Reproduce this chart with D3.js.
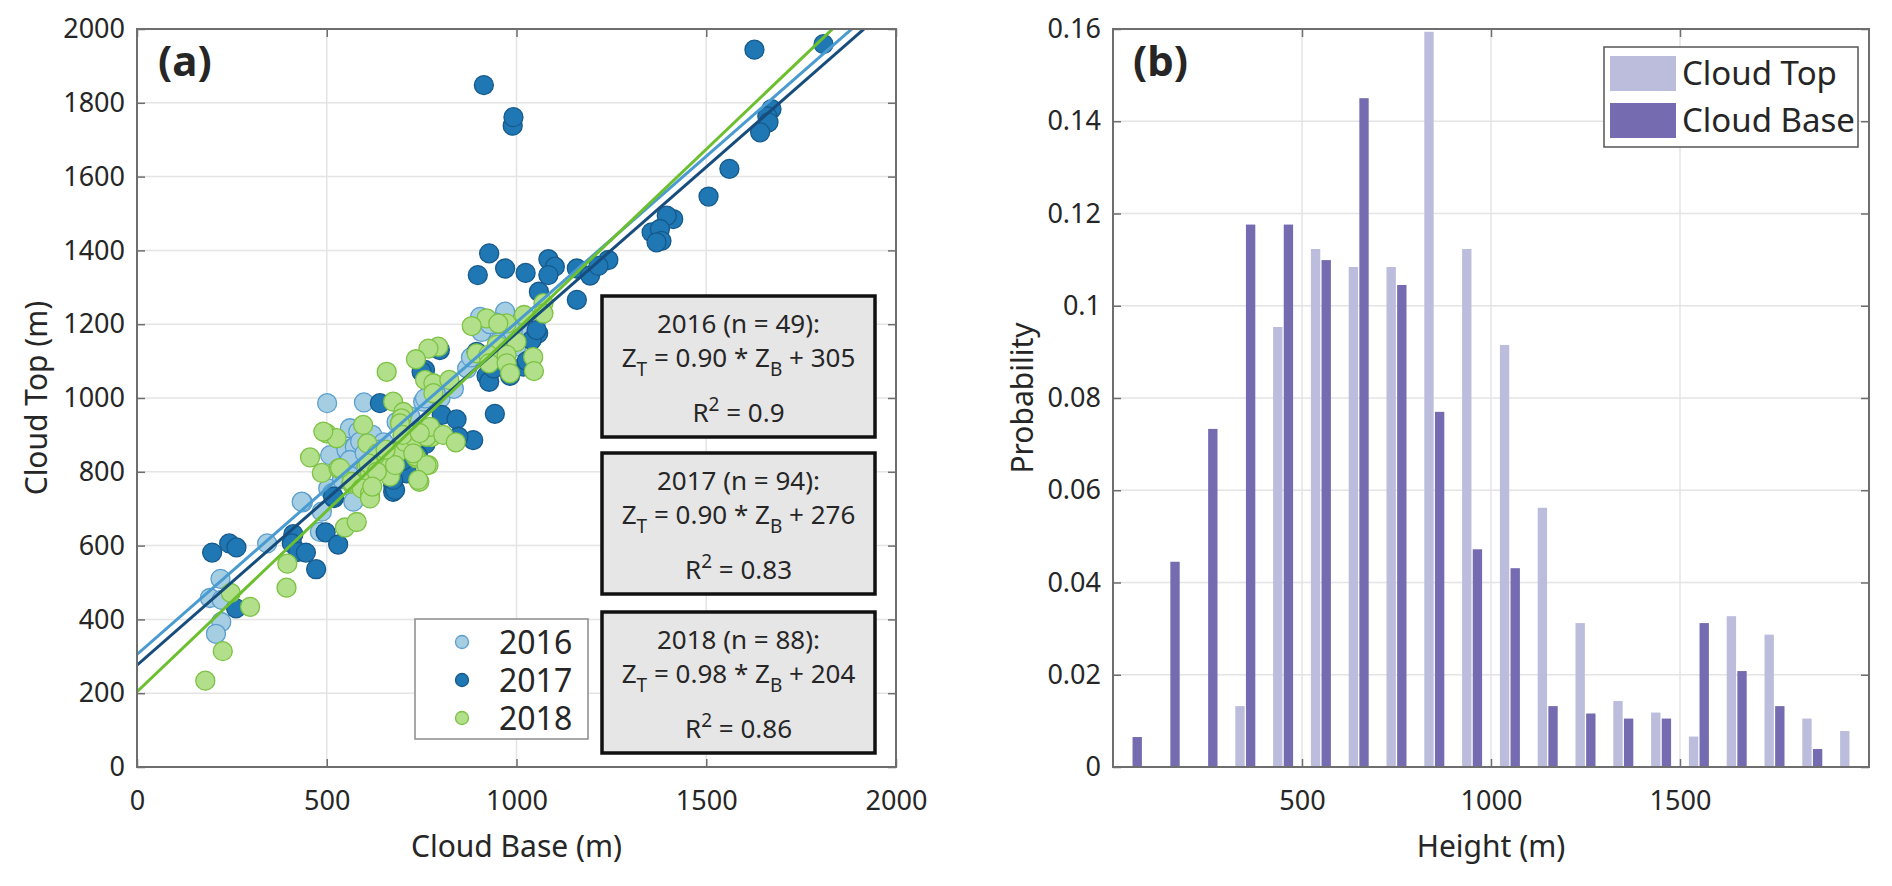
<!DOCTYPE html>
<html>
<head>
<meta charset="utf-8">
<script src="https://cdn.jsdelivr.net/npm/d3@7"></script>
<style>
  body { margin: 0; background: #fff; }
  text { font-family: "Noto Sans", sans-serif; fill: #262626; }
</style>
</head>
<body>
<script>
// ---- data: panel (a) scatter, cloud base vs cloud top (m) ----
const years = ['2016', '2017', '2018'];
const counts = [49, 94, 88];
const fitSlope = [0.90, 0.90, 0.98];
const fitIntercept = [305, 276, 204];
const fitR2 = ['0.9', '0.83', '0.86'];

const points2016 = [
  [437, 717], [343, 606], [220, 510], [192, 458], [223, 453], [222, 393], [208, 361],
  [482, 637], [487, 692], [504, 755], [570, 719], [509, 845], [572, 868], [501, 986],
  [598, 988], [561, 918], [583, 909], [552, 859], [574, 868], [561, 832], [588, 882],
  [684, 935], [754, 990], [434, 719], [514, 742], [768, 1003], [904, 1220], [970, 1234],
  [908, 1179], [1027, 1195], [1053, 1211], [759, 999], [945, 1205],
  [620, 900], [650, 880], [700, 900], [720, 950], [800, 1000], [835, 1025], [870, 1080],
  [950, 1150], [990, 1180], [640, 860], [560, 790], [600, 850], [540, 780], [880, 1110],
  [930, 1200], [1000, 1140]
];

const points2017 = [
  [914, 1848], [990, 1738], [992, 1761], [1627, 1944], [1809, 1959], [1672, 1783],
  [1661, 1763], [1664, 1747], [1642, 1720], [1561, 1621], [1506, 1546], [1413, 1485],
  [1396, 1494], [1356, 1449], [1378, 1458], [1382, 1426], [1369, 1422],
  [928, 1392], [898, 1333], [970, 1351], [1024, 1339], [1084, 1376], [1101, 1356],
  [1084, 1333], [1159, 1351], [1194, 1332], [1242, 1374], [1216, 1358], [1159, 1266],
  [1059, 1288], [1057, 1175], [1040, 1157], [895, 1125], [798, 1130], [921, 1060],
  [928, 1044], [983, 1060], [759, 1076], [943, 957], [640, 986], [803, 954], [842, 942],
  [886, 886], [847, 895], [710, 800], [1018, 1085], [1053, 1184], [750, 1071], [675, 764],
  [675, 746], [1027, 1100],
  [198, 581], [243, 606], [262, 595], [412, 631], [408, 606], [425, 583], [445, 581],
  [472, 536], [497, 636], [530, 603], [261, 430], [519, 729], [680, 751], [711, 796],
  [675, 778], [517, 733],
  [950, 1100], [965, 1125], [940, 1080], [700, 830], [690, 865], [730, 855], [760, 875],
  [650, 830], [625, 815], [740, 845], [780, 905], [720, 880]
];

const points2018 = [
  [180, 234], [226, 314], [247, 472], [298, 434], [394, 486], [396, 551], [548, 649],
  [579, 664], [456, 839], [487, 797], [531, 809], [500, 904], [526, 891], [565, 768],
  [614, 732], [609, 796], [640, 836], [671, 805], [676, 850], [711, 877], [737, 836],
  [768, 818], [744, 773], [776, 894],
  [491, 909], [596, 927], [607, 877], [633, 850], [605, 818], [658, 842], [688, 854],
  [706, 881], [733, 890], [763, 895], [772, 922], [807, 900], [840, 880], [733, 842],
  [763, 818], [741, 778], [667, 814], [667, 787], [614, 796], [566, 773], [592, 755],
  [614, 741], [614, 728], [675, 990], [702, 962], [697, 945], [693, 931], [658, 1071],
  [759, 1049], [781, 1040], [823, 1049], [781, 1013],
  [1071, 1257], [1071, 1229], [1020, 1225], [921, 1216], [974, 1202], [952, 1202],
  [882, 1195], [1000, 1152], [948, 1144], [895, 1121], [926, 1117], [974, 1117],
  [928, 1094], [974, 1094], [983, 1067], [1044, 1111], [1046, 1073], [794, 1139],
  [768, 1134], [735, 1105], [728, 850], [680, 818], [610, 823], [632, 800], [535, 810],
  [700, 900], [745, 905], [655, 860], [620, 760]
];

const xTicksA = [0, 500, 1000, 1500, 2000];
const yTicksA = [0, 200, 400, 600, 800, 1000, 1200, 1400, 1600, 1800, 2000];

// ---- data: panel (b) histogram, 100 m bins ----
const binCenters = [50, 150, 250, 350, 450, 550, 650, 750, 850, 950,
  1050, 1150, 1250, 1350, 1450, 1550, 1650, 1750, 1850, 1950];
const probTop = [0, 0, 0, 0.0132, 0.0954, 0.1123, 0.1084, 0.1084, 0.1594, 0.1123,
  0.0915, 0.0562, 0.0312, 0.0143, 0.0118, 0.0066, 0.0327, 0.0287, 0.0105, 0.0078];
const probBase = [0.0065, 0.0445, 0.0733, 0.1176, 0.1176, 0.1099, 0.145, 0.1045, 0.077, 0.0472,
  0.0431, 0.0132, 0.0116, 0.0105, 0.0105, 0.0312, 0.0208, 0.0132, 0.0039, 0];
const seriesB = ['Cloud Top', 'Cloud Base'];
const xTicksB = [500, 1000, 1500];
const yTicksB = [0, 0.02, 0.04, 0.06, 0.08, 0.1, 0.12, 0.14, 0.16];

const markerFill = ['#a6cee3', '#1f78b4', '#b2df8a'];
const markerEdge = ['#5b9fcf', '#165a8c', '#7cc243'];
const lineColor = ['#4a9bd0', '#174d7c', '#6cbf2e'];
const barColor = ['#bcbddc', '#756bb1'];

const svgWidth = 1892;
const svgHeight = 886;
const plotTop = 29;
const plotHeight = 738;

const svg = d3.select('body')
  .append('svg')
  .attr('width', svgWidth)
  .attr('height', svgHeight);

function drawFrame(g, x, y, w, h, xTicks, yTicks, yFmt) {
  // grid
  g.append('g')
    .selectAll('line.gx')
    .data(xTicks)
    .join('line')
    .attr('x1', d => x(d)).attr('x2', d => x(d))
    .attr('y1', 0).attr('y2', h)
    .attr('stroke', '#e4e4e4').attr('stroke-width', 1.5);
  g.append('g')
    .selectAll('line.gy')
    .data(yTicks)
    .join('line')
    .attr('x1', 0).attr('x2', w)
    .attr('y1', d => y(d)).attr('y2', d => y(d))
    .attr('stroke', '#e4e4e4').attr('stroke-width', 1.5);
}

function drawAxes(g, x, y, w, h, xTicks, yTicks, yFmt) {
  const axes = [
    d3.axisBottom(x).tickValues(xTicks).tickSize(-8).tickPadding(24).tickFormat(d => d),
    d3.axisLeft(y).tickValues(yTicks).tickSize(-8).tickPadding(12).tickFormat(yFmt),
    d3.axisTop(x).tickValues(xTicks).tickSize(-8).tickFormat(''),
    d3.axisRight(y).tickValues(yTicks).tickSize(-8).tickFormat('')
  ];
  const shifts = [[0, h], [0, 0], [0, 0], [w, 0]];
  axes.forEach((ax, i) => {
    const a = g.append('g')
      .attr('transform', `translate(${shifts[i][0]}, ${shifts[i][1]})`)
      .call(ax);
    a.select('.domain').remove();
    a.selectAll('line').attr('stroke', '#6e6e6e').attr('stroke-width', 1.5);
    a.selectAll('text')
      .attr('font-size', 27)
      .attr('font-family', '"Noto Sans", sans-serif')
      .attr('fill', '#262626');
  });
  g.append('rect')
    .attr('width', w).attr('height', h)
    .attr('fill', 'none')
    .attr('stroke', '#6e6e6e')
    .attr('stroke-width', 2);
}

// ================= panel (a) =================
const wA = 759;
const gA = svg.append('g').attr('transform', `translate(137, ${plotTop})`);
const xA = d3.scaleLinear().domain([0, 2000]).range([0, wA]);
const yA = d3.scaleLinear().domain([0, 2000]).range([plotHeight, 0]);

drawFrame(gA, xA, yA, wA, plotHeight, xTicksA, yTicksA);

gA.append('clipPath').attr('id', 'clipA')
  .append('rect').attr('width', wA).attr('height', plotHeight);

const dataA = [points2016, points2017, points2018];
const plotA = gA.append('g').attr('clip-path', 'url(#clipA)');

dataA.forEach((pts, i) => {
  plotA.append('g')
    .selectAll('circle')
    .data(pts)
    .join('circle')
    .attr('cx', d => xA(d[0]))
    .attr('cy', d => yA(d[1]))
    .attr('r', 9.5)
    .attr('fill', markerFill[i])
    .attr('stroke', markerEdge[i])
    .attr('stroke-width', 1.3);
});

years.forEach((yr, i) => {
  plotA.append('line')
    .attr('x1', xA(0))
    .attr('y1', yA(fitIntercept[i]))
    .attr('x2', xA(2000))
    .attr('y2', yA(fitSlope[i] * 2000 + fitIntercept[i]))
    .attr('stroke', lineColor[i])
    .attr('stroke-width', 3);
});

drawAxes(gA, xA, yA, wA, plotHeight, xTicksA, yTicksA, d => d);

gA.append('text')
  .attr('x', 21).attr('y', 47)
  .attr('font-size', 42).attr('font-weight', 'bold')
  .text('(a)');

// fit boxes
const boxTops = [296, 453, 612];
years.forEach((yr, i) => {
  const bx = 602 - 137;
  const by = boxTops[i] - plotTop;
  const bw = 273;
  const bh = 141;
  const cx = bx + bw / 2;
  gA.append('rect')
    .attr('x', bx).attr('y', by)
    .attr('width', bw).attr('height', bh)
    .attr('fill', '#e6e6e6')
    .attr('stroke', '#111')
    .attr('stroke-width', 3.5);
  gA.append('text')
    .attr('x', cx).attr('y', by + 37)
    .attr('text-anchor', 'middle')
    .attr('font-size', 26)
    .text(`${yr} (n = ${counts[i]}):`);
  const eq = gA.append('text')
    .attr('x', cx).attr('y', by + 71)
    .attr('text-anchor', 'middle')
    .attr('font-size', 26);
  eq.append('tspan').text('Z');
  eq.append('tspan').attr('dy', 9).attr('font-size', 19).text('T');
  eq.append('tspan').attr('dy', -9).text(` = ${fitSlope[i].toFixed(2)} * Z`);
  eq.append('tspan').attr('dy', 9).attr('font-size', 19).text('B');
  eq.append('tspan').attr('dy', -9).text(` + ${fitIntercept[i]}`);
  const r2 = gA.append('text')
    .attr('x', cx).attr('y', by + 126)
    .attr('text-anchor', 'middle')
    .attr('font-size', 26);
  r2.append('tspan').text('R');
  r2.append('tspan').attr('dy', -11).attr('font-size', 19).text('2');
  r2.append('tspan').attr('dy', 11).text(` = ${fitR2[i]}`);
});

// legend (a)
const legA = gA.append('g').attr('transform', `translate(${415 - 137}, ${619 - plotTop})`);
legA.append('rect')
  .attr('width', 173).attr('height', 120)
  .attr('fill', '#fff')
  .attr('stroke', '#8a8a8a')
  .attr('stroke-width', 1.5);
years.forEach((yr, i) => {
  legA.append('circle')
    .attr('cx', 47).attr('cy', 23 + i * 38)
    .attr('r', 6.5)
    .attr('fill', markerFill[i])
    .attr('stroke', markerEdge[i])
    .attr('stroke-width', 1.3);
  legA.append('text')
    .attr('x', 84).attr('y', 35 + i * 38)
    .attr('font-size', 32)
    .text(yr);
});

svg.append('text')
  .attr('x', 137 + wA / 2).attr('y', 857)
  .attr('text-anchor', 'middle')
  .attr('font-size', 30)
  .text('Cloud Base (m)');
svg.append('text')
  .attr('transform', `translate(47, ${plotTop + plotHeight / 2}) rotate(-90)`)
  .attr('text-anchor', 'middle')
  .attr('font-size', 30)
  .text('Cloud Top (m)');

// ================= panel (b) =================
const wB = 756;
const gB = svg.append('g').attr('transform', `translate(1113, ${plotTop})`);
const xB = d3.scaleLinear().domain([0, 2000]).range([0, wB]);
const yB = d3.scaleLinear().domain([0, 0.16]).range([plotHeight, 0]);
const xSub = d3.scaleBand().domain(seriesB).range([-10, 10]).paddingInner(0.12);

drawFrame(gB, xB, yB, wB, plotHeight, xTicksB, yTicksB);

const barsData = binCenters.map((c, i) => ({center: c, values: [probTop[i], probBase[i]]}));

gB.append('g')
  .selectAll('g')
  .data(barsData)
  .join('g')
  .attr('transform', d => `translate(${xB(d.center)}, 0)`)
  .selectAll('rect')
  .data(d => d.values.map((v, k) => ({key: seriesB[k], value: v, k: k})))
  .join('rect')
  .attr('x', d => xSub(d.key))
  .attr('width', xSub.bandwidth())
  .attr('y', d => yB(d.value))
  .attr('height', d => plotHeight - yB(d.value))
  .attr('fill', d => barColor[d.k]);

drawAxes(gB, xB, yB, wB, plotHeight, xTicksB, yTicksB, d => String(+d.toFixed(2)));

gB.append('text')
  .attr('x', 20).attr('y', 47)
  .attr('font-size', 42).attr('font-weight', 'bold')
  .text('(b)');

// legend (b)
const legB = gB.append('g').attr('transform', `translate(${1604 - 1113}, ${47 - plotTop})`);
legB.append('rect')
  .attr('width', 254).attr('height', 100)
  .attr('fill', '#fff')
  .attr('stroke', '#555')
  .attr('stroke-width', 1.5);
seriesB.forEach((s, i) => {
  legB.append('rect')
    .attr('x', 6).attr('y', 9 + i * 47)
    .attr('width', 66).attr('height', 35)
    .attr('fill', barColor[i]);
  legB.append('text')
    .attr('x', 78).attr('y', 38 + i * 47)
    .attr('font-size', 33)
    .text(s);
});

svg.append('text')
  .attr('x', 1113 + wB / 2).attr('y', 857)
  .attr('text-anchor', 'middle')
  .attr('font-size', 30)
  .text('Height (m)');
svg.append('text')
  .attr('transform', `translate(1033, ${plotTop + plotHeight / 2}) rotate(-90)`)
  .attr('text-anchor', 'middle')
  .attr('font-size', 30)
  .text('Probability');
</script>
</body>
</html>
